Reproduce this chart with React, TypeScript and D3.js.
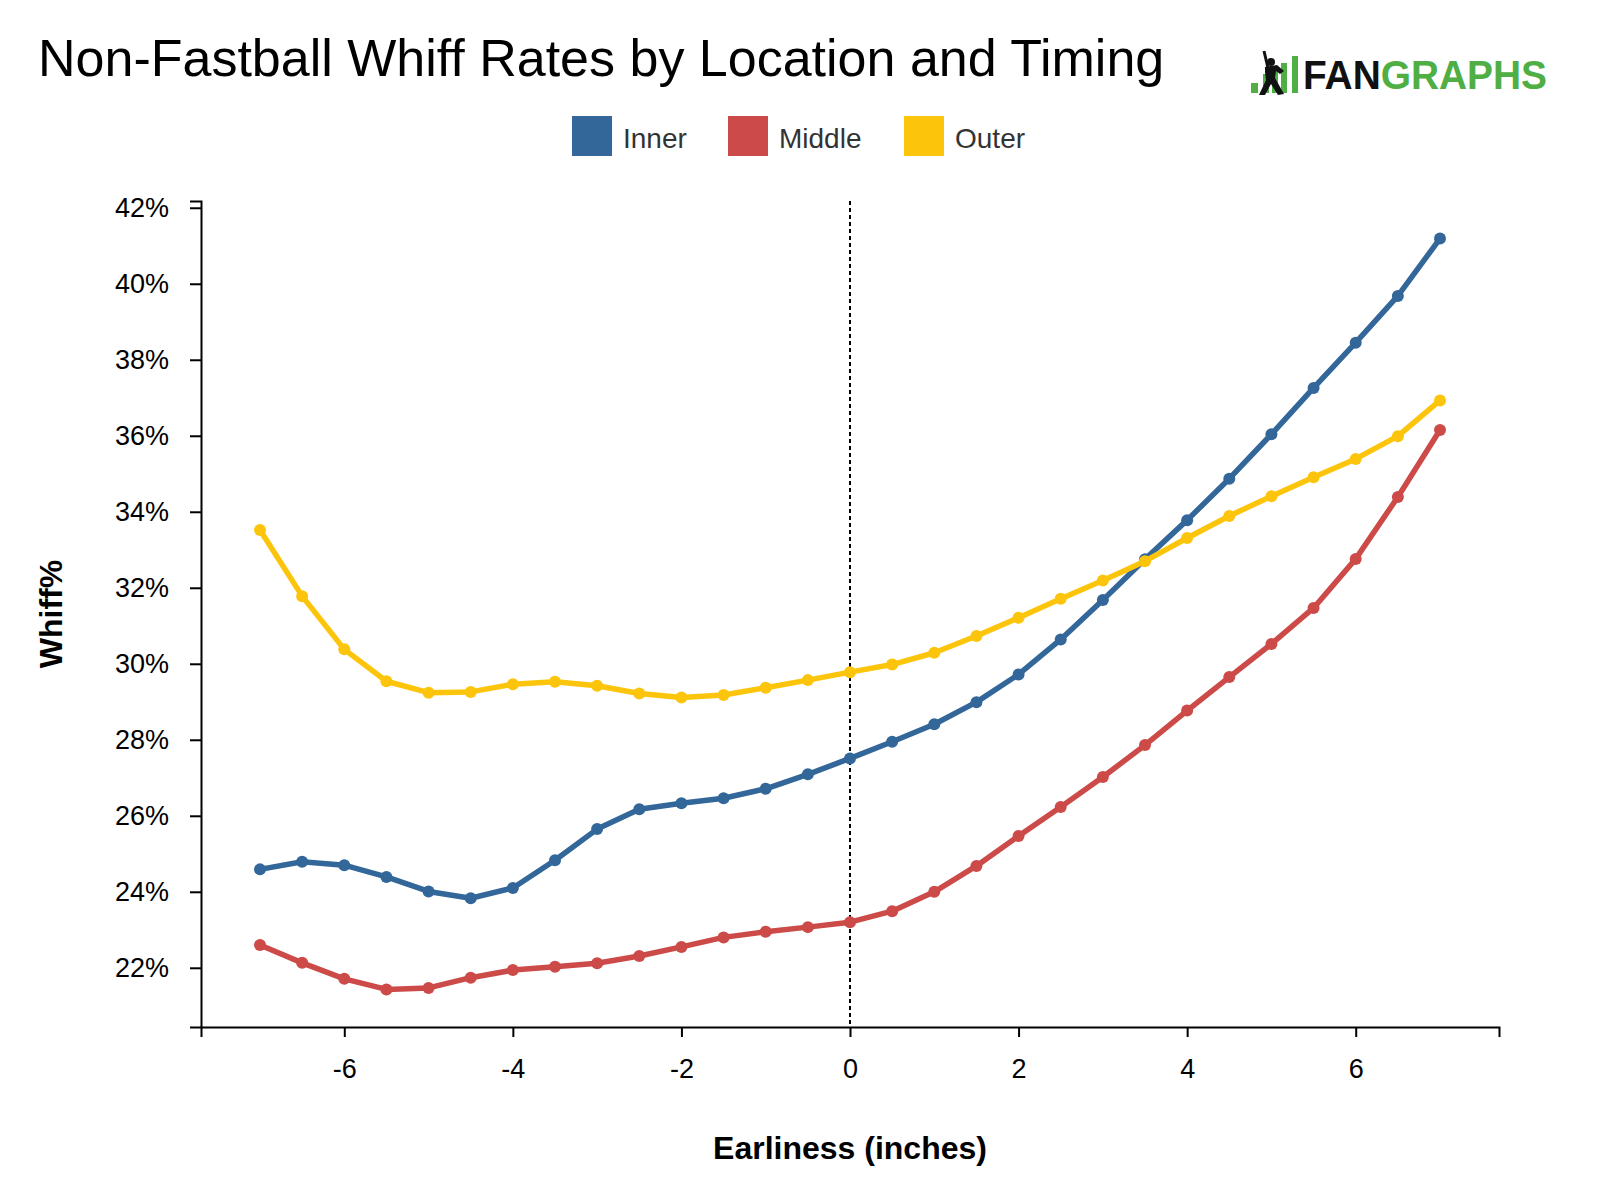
import React, { useEffect, useRef } from 'react';
import * as d3 from 'd3';

// earliness (inches) and whiff % per location
const earliness = [-7, -6.5, -6, -5.5, -5, -4.5, -4, -3.5, -3, -2.5, -2, -1.5, -1, -0.5, 0, 0.5, 1, 1.5, 2, 2.5, 3, 3.5, 4, 4.5, 5, 5.5, 6, 6.5, 7];
const innerWhiff = [24.59, 24.79, 24.7, 24.39, 24.01, 23.83, 24.1, 24.83, 25.65, 26.17, 26.33, 26.46, 26.71, 27.09, 27.51, 27.95, 28.41, 28.99, 29.72, 30.64, 31.68, 32.75, 33.78, 34.87, 36.04, 37.26, 38.45, 39.68, 41.19];
const middleWhiff = [22.6, 22.13, 21.71, 21.43, 21.47, 21.74, 21.94, 22.03, 22.12, 22.31, 22.55, 22.8, 22.95, 23.07, 23.2, 23.49, 24.0, 24.68, 25.47, 26.23, 27.02, 27.86, 28.77, 29.65, 30.52, 31.47, 32.76, 34.39, 36.15];
const outerWhiff = [33.52, 31.78, 30.38, 29.54, 29.24, 29.26, 29.46, 29.53, 29.42, 29.22, 29.11, 29.18, 29.37, 29.57, 29.78, 29.98, 30.29, 30.73, 31.21, 31.71, 32.19, 32.7, 33.31, 33.89, 34.41, 34.91, 35.39, 35.99, 36.93];
const seriesNames = ['Inner', 'Middle', 'Outer'];
const seriesColors = ['#336699', '#cc4a48', '#fcc50c'];

const FONT = '"Liberation Sans", Arial, sans-serif';

const App: React.FC = () => {
  const chartRef = useRef<SVGSVGElement>(null);

  useEffect(() => {
    if (!chartRef.current) return;

    const width = 1600;
    const height = 1200;
    const margin = { top: 201, right: 101, bottom: 173, left: 201 };

    const svg = d3.select(chartRef.current);
    svg.selectAll('*').remove();
    svg.attr('width', width).attr('height', height).style('font-family', FONT);

    svg.append('rect').attr('width', width).attr('height', height).attr('fill', '#fff');

    const series = [innerWhiff, middleWhiff, outerWhiff].map((vals, i) => ({
      name: seriesNames[i],
      color: seriesColors[i],
      points: vals.map((v, j) => ({ x: earliness[j], y: v })),
    }));

    const xExt = d3.extent(earliness) as [number, number];
    const allY = [...innerWhiff, ...middleWhiff, ...outerWhiff];
    const yExt = d3.extent(allY) as [number, number];
    const xPad = (xExt[1] - xExt[0]) * 0.05;
    const yPad = (yExt[1] - yExt[0]) * 0.05;

    const x = d3.scaleLinear()
      .domain([xExt[0] - xPad, xExt[1] + xPad])
      .range([margin.left, width - margin.right]);
    const y = d3.scaleLinear()
      .domain([yExt[0] - yPad, yExt[1] + yPad])
      .range([height - margin.bottom, margin.top]);

    // title
    svg.append('text')
      .attr('x', 38).attr('y', 76)
      .attr('font-size', 52)
      .attr('fill', '#000')
      .text('Non-Fastball Whiff Rates by Location and Timing');

    // logo
    const logo = svg.append('g');
    const bars = [[1251, 83, 7, 10], [1263, 74, 6, 19], [1272, 68, 6, 25], [1281, 63, 6, 30], [1292, 56, 6, 37]];
    bars.forEach(([bx, by, bw, bh]) => {
      logo.append('rect').attr('x', bx).attr('y', by).attr('width', bw).attr('height', bh).attr('fill', '#4fae44');
    });
    logo.append('circle').attr('cx', 1271).attr('cy', 62).attr('r', 4).attr('fill', '#111');
    logo.append('path')
      .attr('d', 'M1265,67 L1277,65 L1284,71 L1280,74 L1276,71 L1275,78 L1284,94 L1278,95 L1271,84 L1265,95 L1259,95 L1266,80 L1265,72 Z')
      .attr('fill', '#111');
    logo.append('line').attr('x1', 1268).attr('y1', 68).attr('x2', 1264).attr('y2', 51)
      .attr('stroke', '#111').attr('stroke-width', 3);
    logo.append('text')
      .attr('x', 1303).attr('y', 88.5)
      .attr('font-size', 40).attr('font-weight', 'bold')
      .attr('textLength', 244).attr('lengthAdjust', 'spacingAndGlyphs')
      .call(t => {
        t.append('tspan').attr('fill', '#111').text('FAN');
        t.append('tspan').attr('fill', '#4fae44').text('GRAPHS');
      });

    // legend
    const legendX = [572, 728, 904];
    const legend = svg.append('g');
    series.forEach((s, i) => {
      legend.append('rect')
        .attr('x', legendX[i]).attr('y', 116)
        .attr('width', 40).attr('height', 40)
        .attr('fill', s.color);
      legend.append('text')
        .attr('x', legendX[i] + 51).attr('y', 148)
        .attr('font-size', 28)
        .attr('fill', '#333')
        .text(s.name);
    });

    // axes
    const xAxis = d3.axisBottom(x).ticks(10).tickSize(10).tickPadding(22).tickFormat(d3.format('d'));
    const yAxis = d3.axisLeft(y).ticks(10).tickSize(11).tickPadding(21).tickFormat(d => `${d}%`);

    const gx = svg.append('g')
      .attr('transform', `translate(0,${height - margin.bottom})`)
      .call(xAxis);
    const gy = svg.append('g')
      .attr('transform', `translate(${margin.left},0)`)
      .call(yAxis);

    [gx, gy].forEach(g => {
      g.selectAll('path, line').attr('stroke', '#000').attr('stroke-width', 2);
      g.selectAll('text').attr('font-size', 27).attr('font-family', FONT).attr('fill', '#000');
    });
    gx.selectAll('text').text((d: any) => d3.format('d')(d).replace('−', '-'));

    // zero line
    svg.append('line')
      .attr('x1', x(0)).attr('x2', x(0))
      .attr('y1', margin.top).attr('y2', height - margin.bottom)
      .attr('stroke', '#000').attr('stroke-width', 2)
      .attr('stroke-dasharray', '4,3');

    // axis titles
    svg.append('text')
      .attr('x', (margin.left + width - margin.right) / 2)
      .attr('y', 1159)
      .attr('text-anchor', 'middle')
      .attr('font-size', 32).attr('font-weight', 'bold')
      .text('Earliness (inches)');
    svg.append('text')
      .attr('transform', `translate(62,${(margin.top + height - margin.bottom) / 2}) rotate(-90)`)
      .attr('text-anchor', 'middle')
      .attr('font-size', 32).attr('font-weight', 'bold')
      .text('Whiff%');

    // lines
    const line = d3.line<{ x: number; y: number }>()
      .x(d => x(d.x))
      .y(d => y(d.y));

    series.forEach(s => {
      const g = svg.append('g');
      g.append('path')
        .datum(s.points)
        .attr('d', line)
        .attr('fill', 'none')
        .attr('stroke', s.color)
        .attr('stroke-width', 5.5)
        .attr('stroke-linejoin', 'round');
      g.selectAll('circle')
        .data(s.points)
        .enter()
        .append('circle')
        .attr('cx', d => x(d.x))
        .attr('cy', d => y(d.y))
        .attr('r', 6)
        .attr('fill', s.color);
    });
  }, []);

  return <svg ref={chartRef} style={{ position: 'absolute', left: 0, top: 0 }}></svg>;
};

export default App;
